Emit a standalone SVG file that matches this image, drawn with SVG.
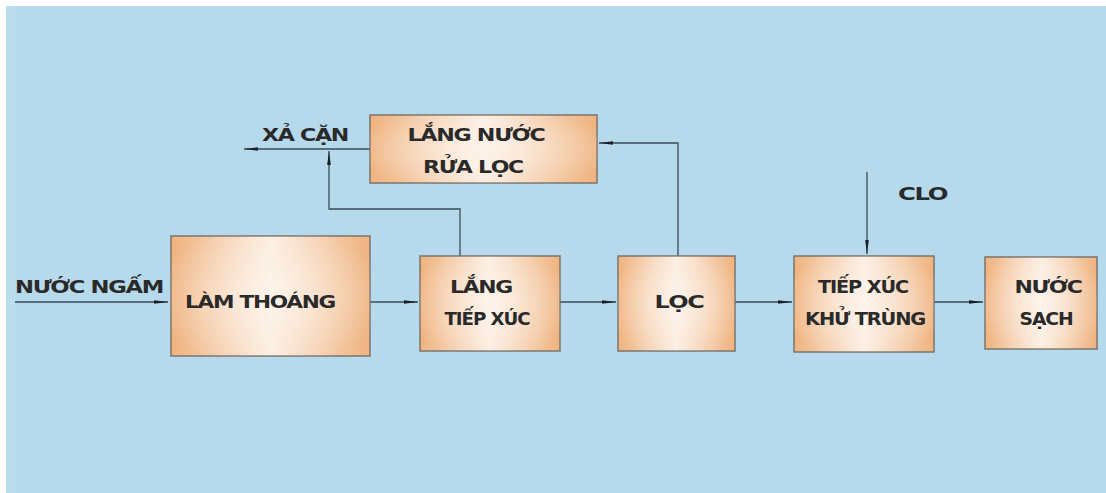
<svg xmlns="http://www.w3.org/2000/svg" width="1106" height="493" viewBox="0 0 1106 493">
<defs>
<linearGradient id="box" x1="0" y1="0" x2="1" y2="0">
<stop offset="0" stop-color="#efb27e"/>
<stop offset="0.5" stop-color="#fbeee3"/>
<stop offset="1" stop-color="#efb27e"/>
</linearGradient>
<radialGradient id="glow" cx="0.5" cy="0.5" r="0.6">
<stop offset="0" stop-color="#fff6ee" stop-opacity="0.7"/>
<stop offset="1" stop-color="#fff6ee" stop-opacity="0"/>
</radialGradient>
<marker id="ah" viewBox="0 0 14 6" refX="14" refY="3" markerWidth="14" markerHeight="6" markerUnits="userSpaceOnUse" orient="auto">
<path d="M0,1.2 L14,3 L0,4.8 Z" fill="#1a1f26"/>
</marker>
<style>
.box{fill:url(#box);stroke:#7b746c;stroke-width:1.5}
.gl{fill:url(#glow)}
.t{font-family:"DejaVu Sans","Liberation Sans",sans-serif;font-size:17px;font-weight:bold;fill:#2a2a2a;text-anchor:middle;letter-spacing:-1px}
.l{font-family:"DejaVu Sans","Liberation Sans",sans-serif;font-size:17px;font-weight:bold;fill:#2a2a2a;letter-spacing:-1px}
.c{fill:none;stroke:#3a4a58;stroke-width:1.3}
.ca{fill:none;stroke:#3a4a58;stroke-width:1.3;marker-end:url(#ah)}
</style>
</defs>
<rect x="0" y="0" width="1106" height="493" fill="#ffffff"/>
<rect x="6" y="6" width="1100" height="487" fill="#b6d9ec"/>
<rect x="6" y="6" width="10" height="487" fill="#bfe0f0" opacity="0.6"/>

<g id="connectors">
<path class="ca" d="M15,302 H168"/>
<path class="ca" d="M370,302 H418"/>
<path class="ca" d="M560,302 H616"/>
<path class="ca" d="M735,302 H792"/>
<path class="ca" d="M934,302 H983"/>
<path class="ca" d="M867,172 V254"/>
<path class="ca" d="M678,256 V143 H599"/>
<path class="ca" d="M370,149 H244"/>
<path class="ca" d="M460,256 V209 H329 V151"/>
</g>

<g id="node-lam-thoang">
<rect class="box" x="171" y="236" width="199" height="120"/>
<rect class="gl" x="171" y="236" width="199" height="120"/>
<text class="l" x="185" y="308" textLength="150" lengthAdjust="spacingAndGlyphs">LÀM THOÁNG</text>
</g>
<g id="node-lang-tiep-xuc">
<rect class="box" x="420" y="256" width="140" height="95"/>
<rect class="gl" x="420" y="256" width="140" height="95"/>
<text class="t" x="481" y="293" textLength="62" lengthAdjust="spacingAndGlyphs">LẮNG</text>
<text class="t" x="487" y="325" textLength="85" lengthAdjust="spacingAndGlyphs">TIẾP XÚC</text>
</g>
<g id="node-loc">
<rect class="box" x="618" y="256" width="117" height="95"/>
<rect class="gl" x="618" y="256" width="117" height="95"/>
<text class="t" x="679" y="308" textLength="49" lengthAdjust="spacingAndGlyphs">LỌC</text>
</g>
<g id="node-tiep-xuc-khu-trung">
<rect class="box" x="794" y="256" width="140" height="96"/>
<rect class="gl" x="794" y="256" width="140" height="96"/>
<text class="t" x="863" y="293" textLength="90" lengthAdjust="spacingAndGlyphs">TIẾP XÚC</text>
<text class="t" x="865" y="325" textLength="120" lengthAdjust="spacingAndGlyphs">KHỬ TRÙNG</text>
</g>
<g id="node-nuoc-sach">
<rect class="box" x="985" y="257" width="112" height="92"/>
<rect class="gl" x="985" y="257" width="112" height="92"/>
<text class="t" x="1048" y="293" textLength="67" lengthAdjust="spacingAndGlyphs">NƯỚC</text>
<text class="t" x="1046" y="325" textLength="53" lengthAdjust="spacingAndGlyphs">SẠCH</text>
</g>
<g id="node-lang-nuoc-rua-loc">
<rect class="box" x="370" y="115" width="227" height="68"/>
<rect class="gl" x="370" y="115" width="227" height="68"/>
<text class="t" x="476" y="141" textLength="137" lengthAdjust="spacingAndGlyphs">LẮNG NƯỚC</text>
<text class="t" x="473" y="173" textLength="100" lengthAdjust="spacingAndGlyphs">RỬA LỌC</text>
</g>

<g id="labels">
<text class="l" x="15" y="293" textLength="148" lengthAdjust="spacingAndGlyphs">NƯỚC NGẤM</text>
<text class="l" x="262" y="141" textLength="86" lengthAdjust="spacingAndGlyphs">XẢ CẶN</text>
<text class="l" x="898" y="200" textLength="49" lengthAdjust="spacingAndGlyphs">CLO</text>
</g>
</svg>
